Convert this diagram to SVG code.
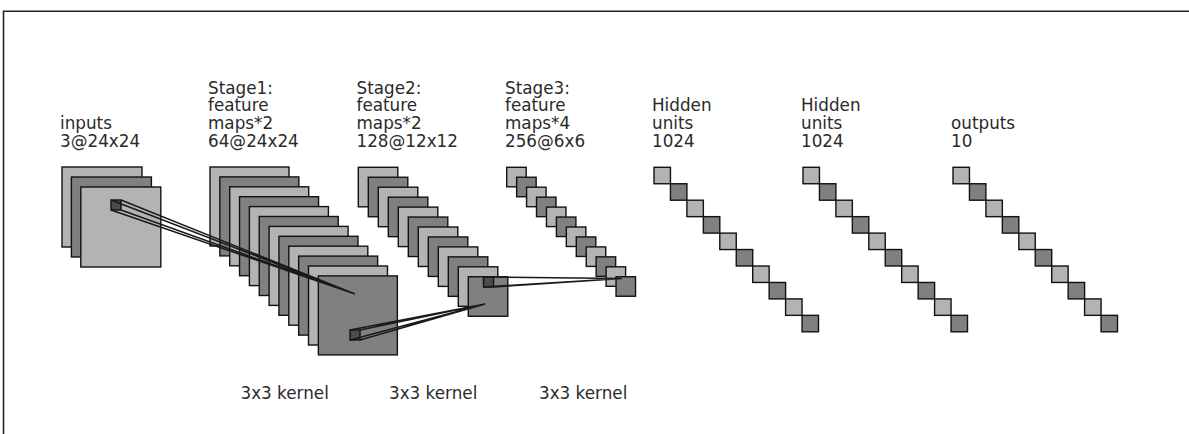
<svg xmlns="http://www.w3.org/2000/svg" width="1189" height="434" viewBox="0 0 1189 434">
<style>
.L{fill:#b3b3b3;stroke:#111;stroke-width:1.4}
.M{fill:#808080;stroke:#111;stroke-width:1.4}
.K{fill:#4d4d4d;stroke:#111;stroke-width:1.4}
.ln{stroke:#1a1a1a;stroke-width:1.5;fill:none}
.frame{stroke:#222;stroke-width:1.6;fill:none}
text{font-family:"DejaVu Sans","Liberation Sans",sans-serif;font-size:16.8px;fill:#2a2a2a}
</style>
<rect x="0" y="0" width="1189" height="434" fill="#fff"/>
<path class="frame" d="M3.5,434 V11.2 H1189"/>

<g id="inputs">
<rect class="L" x="62" y="167" width="80" height="80"/>
<rect class="M" x="71.4" y="177" width="80" height="80"/>
<rect class="L" x="80.8" y="187" width="80" height="80"/>
<text x="60" y="129.2">inputs</text>
<text x="60" y="147">3@24x24</text>
</g>

<g id="stage1">
<rect class="L" x="210" y="167" width="79" height="79"/>
<rect class="M" x="219.85" y="176.9" width="79" height="79"/>
<rect class="L" x="229.7" y="186.8" width="79" height="79"/>
<rect class="M" x="239.55" y="196.7" width="79" height="79"/>
<rect class="L" x="249.4" y="206.6" width="79" height="79"/>
<rect class="M" x="259.25" y="216.5" width="79" height="79"/>
<rect class="L" x="269.1" y="226.4" width="79" height="79"/>
<rect class="M" x="278.95" y="236.3" width="79" height="79"/>
<rect class="L" x="288.8" y="246.2" width="79" height="79"/>
<rect class="M" x="298.65" y="256.1" width="79" height="79"/>
<rect class="L" x="308.5" y="266" width="79" height="79"/>
<rect class="M" x="318.35" y="275.9" width="79" height="79"/>
<text x="208" y="93.6">Stage1:</text>
<text x="208" y="111.4">feature</text>
<text x="208" y="129.2">maps*2</text>
<text x="208" y="147">64@24x24</text>
</g>

<g id="stage2">
<rect class="L" x="358.3" y="167.3" width="39.5" height="39.5"/>
<rect class="M" x="368.3" y="177.25" width="39.5" height="39.5"/>
<rect class="L" x="378.3" y="187.2" width="39.5" height="39.5"/>
<rect class="M" x="388.3" y="197.15" width="39.5" height="39.5"/>
<rect class="L" x="398.3" y="207.1" width="39.5" height="39.5"/>
<rect class="M" x="408.3" y="217.05" width="39.5" height="39.5"/>
<rect class="L" x="418.3" y="227" width="39.5" height="39.5"/>
<rect class="M" x="428.3" y="236.95" width="39.5" height="39.5"/>
<rect class="L" x="438.3" y="246.9" width="39.5" height="39.5"/>
<rect class="M" x="448.3" y="256.85" width="39.5" height="39.5"/>
<rect class="L" x="458.3" y="266.8" width="39.5" height="39.5"/>
<rect class="M" x="468.3" y="276.75" width="39.5" height="39.5"/>
<text x="356.5" y="93.6">Stage2:</text>
<text x="356.5" y="111.4">feature</text>
<text x="356.5" y="129.2">maps*2</text>
<text x="356.5" y="147">128@12x12</text>
</g>

<g id="stage3">
<rect class="L" x="506.7" y="167.3" width="19.5" height="19.5"/>
<rect class="M" x="516.64" y="177.25" width="19.5" height="19.5"/>
<rect class="L" x="526.58" y="187.2" width="19.5" height="19.5"/>
<rect class="M" x="536.52" y="197.15" width="19.5" height="19.5"/>
<rect class="L" x="546.46" y="207.1" width="19.5" height="19.5"/>
<rect class="M" x="556.4" y="217.05" width="19.5" height="19.5"/>
<rect class="L" x="566.34" y="227" width="19.5" height="19.5"/>
<rect class="M" x="576.28" y="236.95" width="19.5" height="19.5"/>
<rect class="L" x="586.22" y="246.9" width="19.5" height="19.5"/>
<rect class="M" x="596.16" y="256.85" width="19.5" height="19.5"/>
<rect class="L" x="606.1" y="266.8" width="19.5" height="19.5"/>
<rect class="M" x="616.04" y="276.75" width="19.5" height="19.5"/>
<text x="505" y="93.6">Stage3:</text>
<text x="505" y="111.4">feature</text>
<text x="505" y="129.2">maps*4</text>
<text x="505" y="147">256@6x6</text>
</g>

<g id="hidden1">
<rect class="L" x="654" y="167.3" width="16.45" height="16.45"/>
<rect class="M" x="670.45" y="183.75" width="16.45" height="16.45"/>
<rect class="L" x="686.9" y="200.2" width="16.45" height="16.45"/>
<rect class="M" x="703.35" y="216.65" width="16.45" height="16.45"/>
<rect class="L" x="719.8" y="233.1" width="16.45" height="16.45"/>
<rect class="M" x="736.25" y="249.55" width="16.45" height="16.45"/>
<rect class="L" x="752.7" y="266" width="16.45" height="16.45"/>
<rect class="M" x="769.15" y="282.45" width="16.45" height="16.45"/>
<rect class="L" x="785.6" y="298.9" width="16.45" height="16.45"/>
<rect class="M" x="802.05" y="315.35" width="16.45" height="16.45"/>
<text x="652" y="111.4">Hidden</text>
<text x="652" y="129.2">units</text>
<text x="652" y="147">1024</text>
</g>

<g id="hidden2">
<rect class="L" x="803" y="167.3" width="16.45" height="16.45"/>
<rect class="M" x="819.45" y="183.75" width="16.45" height="16.45"/>
<rect class="L" x="835.9" y="200.2" width="16.45" height="16.45"/>
<rect class="M" x="852.35" y="216.65" width="16.45" height="16.45"/>
<rect class="L" x="868.8" y="233.1" width="16.45" height="16.45"/>
<rect class="M" x="885.25" y="249.55" width="16.45" height="16.45"/>
<rect class="L" x="901.7" y="266" width="16.45" height="16.45"/>
<rect class="M" x="918.15" y="282.45" width="16.45" height="16.45"/>
<rect class="L" x="934.6" y="298.9" width="16.45" height="16.45"/>
<rect class="M" x="951.05" y="315.35" width="16.45" height="16.45"/>
<text x="801" y="111.4">Hidden</text>
<text x="801" y="129.2">units</text>
<text x="801" y="147">1024</text>
</g>

<g id="outputs">
<rect class="L" x="953" y="167.3" width="16.45" height="16.45"/>
<rect class="M" x="969.45" y="183.75" width="16.45" height="16.45"/>
<rect class="L" x="985.9" y="200.2" width="16.45" height="16.45"/>
<rect class="M" x="1002.35" y="216.65" width="16.45" height="16.45"/>
<rect class="L" x="1018.8" y="233.1" width="16.45" height="16.45"/>
<rect class="M" x="1035.25" y="249.55" width="16.45" height="16.45"/>
<rect class="L" x="1051.7" y="266" width="16.45" height="16.45"/>
<rect class="M" x="1068.15" y="282.45" width="16.45" height="16.45"/>
<rect class="L" x="1084.6" y="298.9" width="16.45" height="16.45"/>
<rect class="M" x="1101.05" y="315.35" width="16.45" height="16.45"/>
<text x="951" y="129.2">outputs</text>
<text x="951" y="147">10</text>
</g>

<g id="connectors">
<rect class="K" x="111" y="200" width="10" height="10"/>
<path class="ln" d="M111,200 L355,294 M121,200 L355,294 M111,210 L355,294 M121,210 L355,294"/>
<rect class="K" x="350" y="330" width="10" height="10"/>
<path class="ln" d="M350,330 L485,304 M360,330 L485,304 M350,340 L485,304 M360,340 L485,304"/>
<rect class="K" x="483.5" y="277" width="10" height="10"/>
<path class="ln" d="M483.5,277 L622,278.5 M493.5,277 L622,278.5 M483.5,287 L622,278.5 M493.5,287 L622,278.5"/>
</g>

<g id="kernel-labels">
<text x="240.5" y="398.5">3x3 kernel</text>
<text x="389" y="398.5">3x3 kernel</text>
<text x="539" y="398.5">3x3 kernel</text>
</g>
</svg>
